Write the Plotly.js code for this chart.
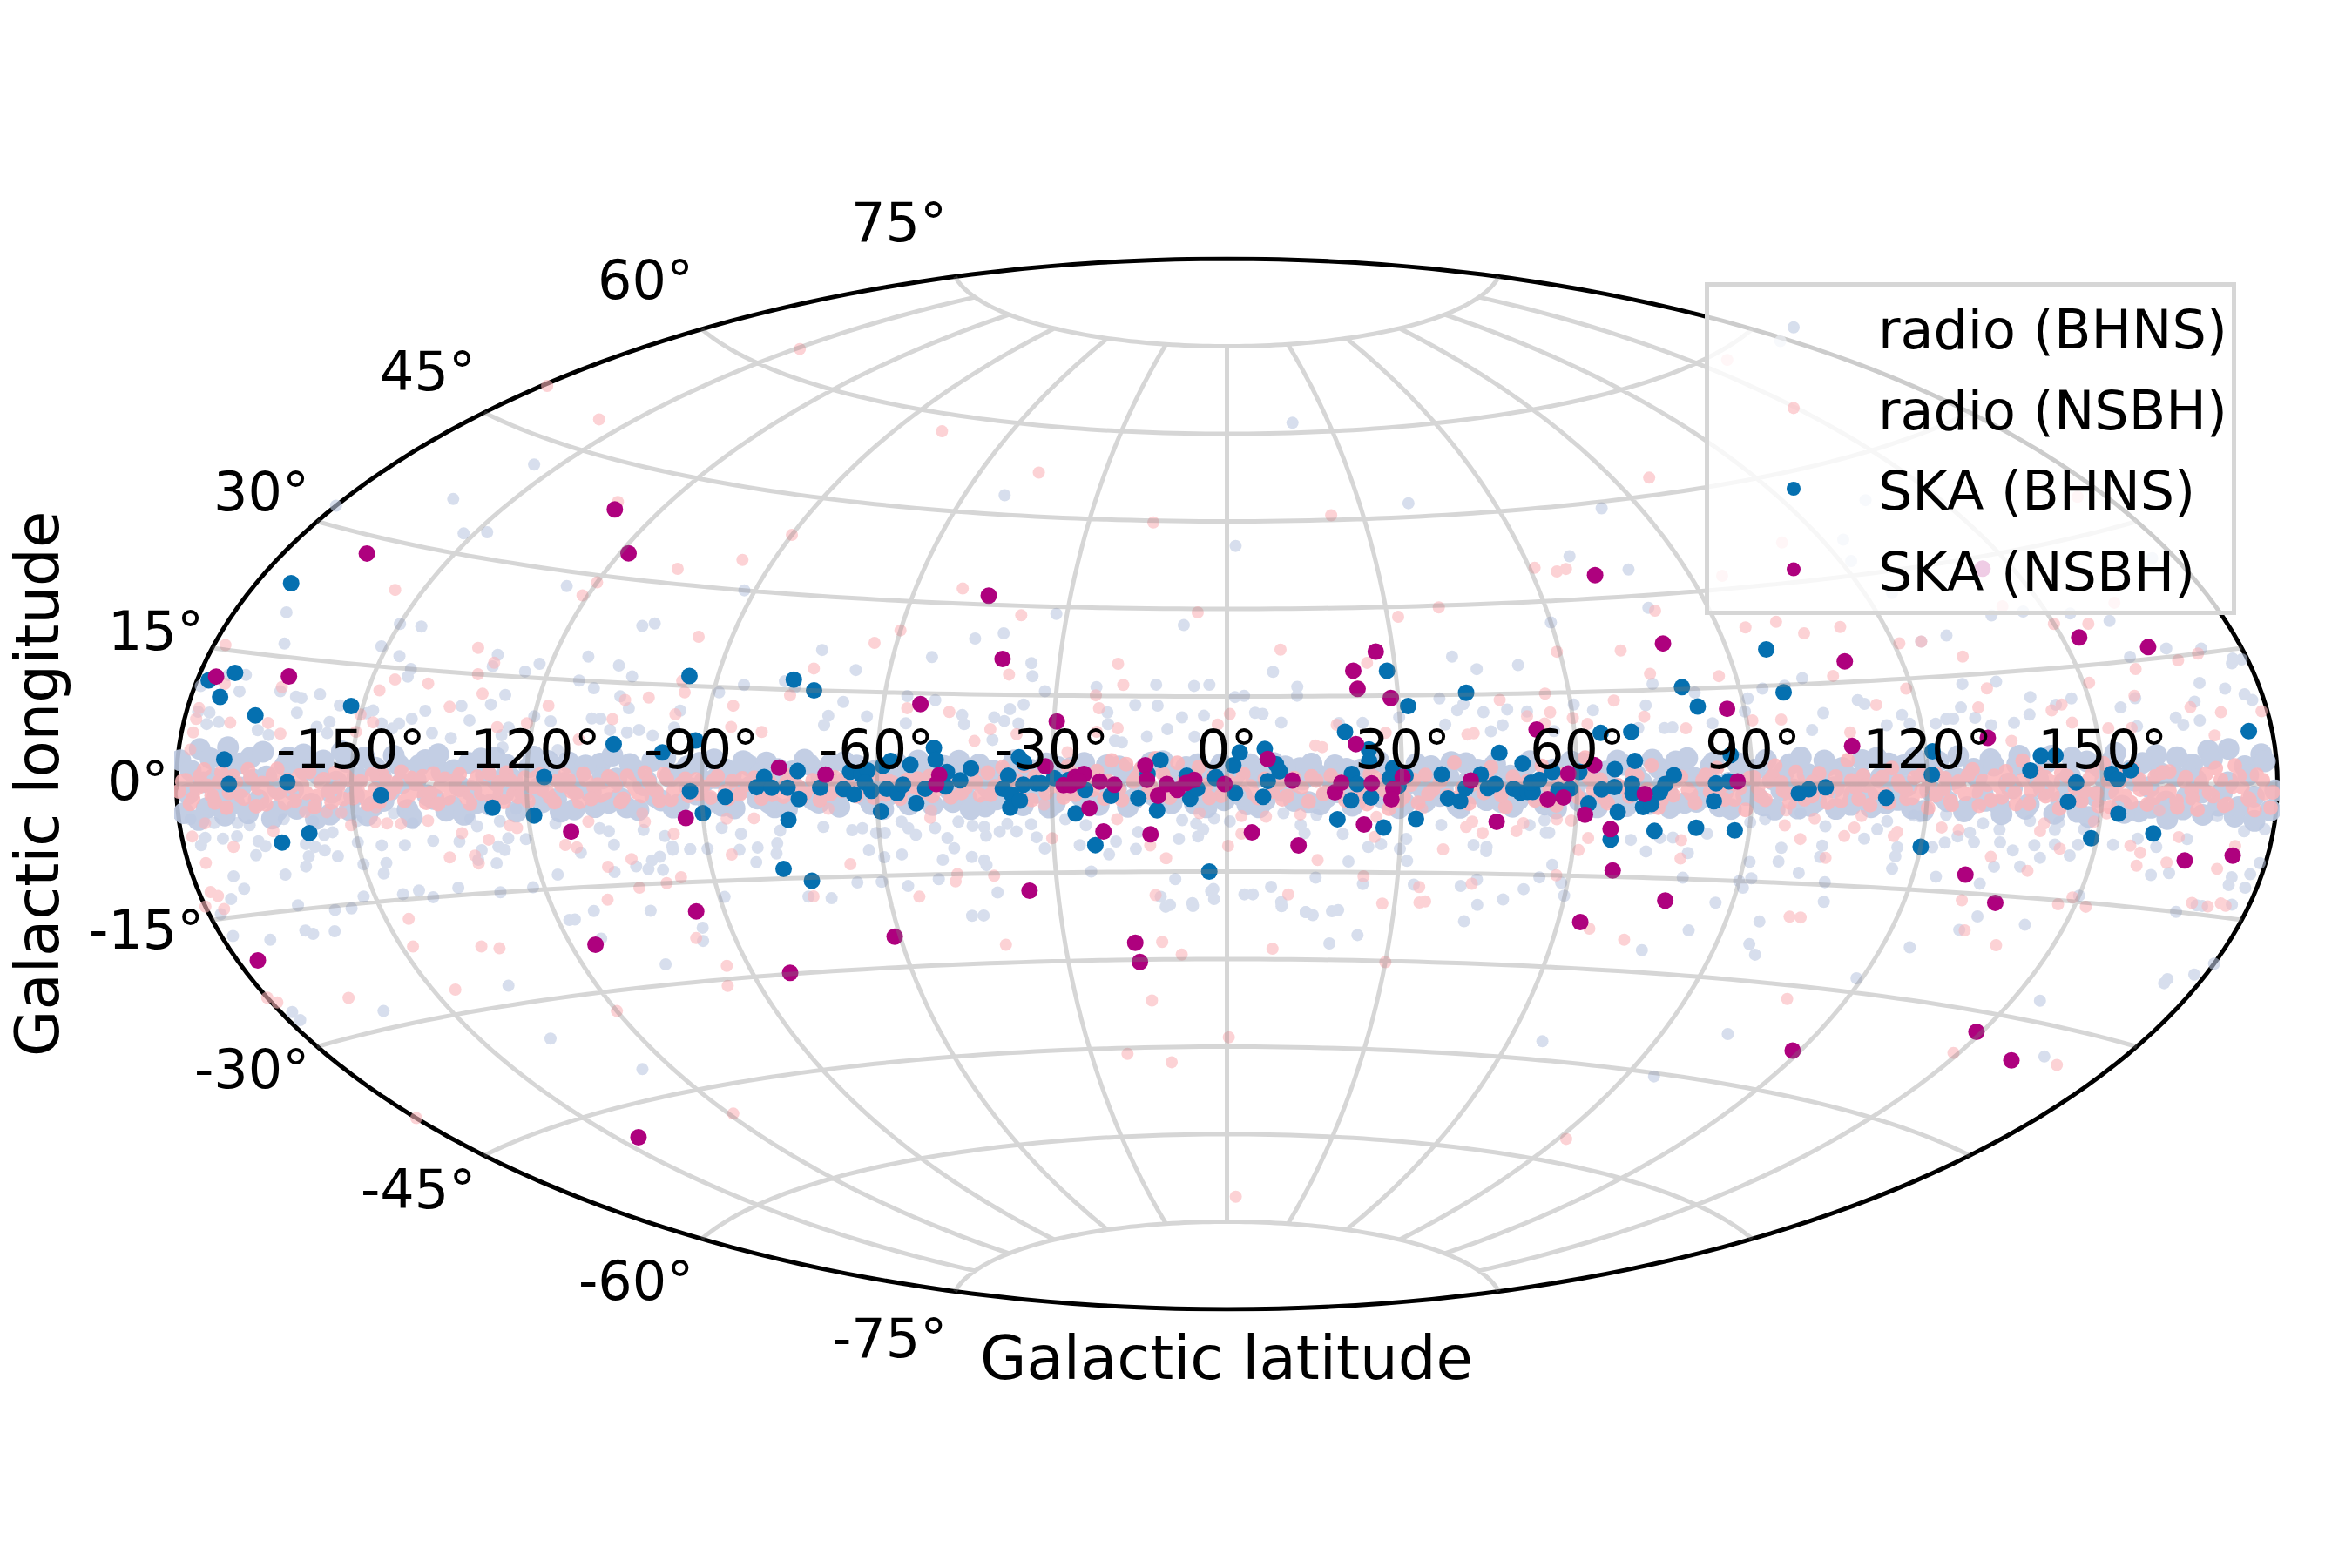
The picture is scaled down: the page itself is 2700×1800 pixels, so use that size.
<!DOCTYPE html>
<html>
<head>
<meta charset="utf-8">
<script src="https://cdn.plot.ly/plotly-3.0.1.min.js"></script>
<style>html,body{margin:0;padding:0;background:#fff}</style>
</head>
<body>
<div id="chart" style="width:2700px;height:1800px"></div>
<script>
// [lon, lat] in degrees
const skaBhns = [
[-174,23.2],[-178,11.5],[-174,12.6],[-175,9.8],[-168,8],[-152,9.8],[-172,2.8],[-171,0],[-161,.2],[-145,-1.5],[-126,-3.3],[-119,-4.5],[-117,1],[-158,-6],[-163,-7],
[-95,16.5],[-105.5,5.9],[-97,4.8],[-92,-1.1],[-76.5,16.6],[-72.5,15],[-91.5,6.7],[-86,-2],[-90,-4.5],[-80.6,-.5],[-79.3,1.1],[-78,-.6],[-75.3,-.6],[-73.6,2.1],[-73.4,-2.4],[-75.4,-5.7],
[-69.7,-.6],[-65.7,-.8],[-64.6,2],[-63.9,-1.7],[-62.7,1.6],[-61.6,2.2],[-62,.2],[-60.9,-1.1],[-59,3],[-57.7,3.8],[-58.3,-.8],[-56.5,-1.5],[-55.5,-.1],[-54.3,3.2],[-59.4,-4.5],[-53.3,-3.2],[-51.7,-.8],
[-50.4,6],[-50,4],[-48,2],[-48.2,-.4],[-45.7,.6],[-43.9,2.6],[-77.5,-13.5],[-73,-15.5],[-37.5,1.4],[-35.7,4.5],[-34.8,3.6],[-38.4,-.8],[-36.9,-1.8],[-37.2,-4],[-35.5,-2.8],[-34.9,-.1],[-32.7,.1],[-31.8,.1],
[-29.6,1],[-27.1,.7],[-26,-5],[-24.3,-1],[-22.8,-10.4],[-19.9,-2],[-15.2,-2.4],[-12,-4.5],[-11.4,4.1],[-13.6,1.7],[-6.9,1.4],[-6.3,-2.5],[-5.1,-.8],[-2,1],[-3.1,-15],
[-1.9,1.2],[1.1,3.2],[2.2,5.4],[1.4,-1.5],[6.5,6],[8.4,3.4],[9,2.2],[7,.5],[6.2,-2.2],[21.4,1.7],[22.3,0],[21.3,-2.8],[20.4,8.9],[19,-6],[24.4,5.9],[24.4,3.9],[24.7,-2.3],[27,-7.4],[28.5,19.2],[31.6,13.2],
[28.5,2.7],[27.9,1],[29.4,-.3],[30.6,1.4],[32.5,-5.9],[36.8,1.6],[42,15.3],[37.9,-2.4],[40,-2.9],[40.9,-.7],[43.5,1.6],[44.7,-.7],[46,0],[46.8,5.2],[49.1,-.8],[50.3,-1.4],[51.5,-1.3],[52.4,-1.3],[52.1,.2],[53.5,.7],[50.7,3.4],
[55.8,2],[56.8,-1],[58.8,-.8],[60.4,2],[64.5,8.3],[69.8,8.4],[70,3.7],[66.5,2.4],[64.2,-.9],[66.4,-.5],[69.4,0],[69.5,-1.5],[62,-3.2],[67.1,-4.5],[66.3,-9],[71.4,-3.7],[72.8,-3.2],[74.2,-1.3],[75.1,0],[76.6,1.4],[73.7,-7.5],
[80,15.3],[82,12.2],[80.8,-6.9],[83.5,-2.7],[83.8,.1],[86,.4],[86.5,4.5],[87.5,-7.2],[97,20.5],[97.5,13.9],[98,-1.4],[99.7,-.8],[102.6,-.5],[113,-2],[120.8,1.3],[121.2,4.6],[120,-8.9],
[137.7,1.8],[139.7,3.7],[142.2,3.7],[145.5,.2],[144.2,-2.3],[151.6,1.25],[152.6,.6],[154.9,1.7],[153,-3.7],[149,-6.9],[159.5,-6],[176,5.9]
];
const skaNsbh = [
[-177,12],[-164.5,12.8],[-113,-6.9],[-93,-5.2],[-95,-19.5],[-76.8,2.6],[-68.8,1.5],[-45.6,31.5],[-40.3,21],[-53.5,13.2],[-49.3,1.5],[-49.8,0],[-29.5,10.6],[-31.1,3],[-35,-18],[-28,-.2],[-26.8,-.2],[-26,1.2],[-24.5,1.7],[-25.4,.5],
[-23.6,-4.1],[-21.8,.4],[-19.3,-.1],[-21.3,-8.1],[-14,3.2],[-13.7,.7],[-13.2,-8.6],[-11.8,-2],[-10.3,0],[-8.5,-1],[-7,.2],[-5.6,.7],[-.4,0],[7,4.3],[11.2,.6],[4.3,-8.3],[12.4,-10.5],[18.5,-1.4],[19.6,.2],
[26.9,22.5],[22.5,19.3],[23,16.2],[28.7,14.6],[22.2,6.8],[24.8,.1],[23.6,-6.9],[30.1,1.2],[28.5,-.8],[28.2,-2.6],[41.8,.6],[46.4,-6.3],[72,33.7],[53.5,9],[58.5,1.7],[63,3.1],[55,-2.5],[57.7,-2.2],[61.5,-5],[66.1,-7.3],[67.5,-14],
[71.6,-1.6],[79,22.3],[78,-18.5],[87,11.7],[87.5,.4],[110,18],[107.5,5.6],[131,6.3],[129,-12.5],[136,-16],[153,18.5],[164,16.4],[166,-9],[174,-8.1],
[-176.5,-20],[-115.6,-23.3],[-83,-29.8],[-145.5,-48.9],[-61,-25],[-17,-27.1],[-16.5,-30.4],[64,-22.5],[118.5,-39],[149,-32.5],[161,-34.8],[-129,39],[-118.4,33.5],[-165.5,28],[144.6,28.5]
];
const radioBhns = [
// high latitudes
[-155,42],[-161,36],[-152,32.5],[-148,33.2],[-180,32],[19.4,61.7],[-51,48.2],[1.8,40.8],[41,47.3],[82,44],[79,34.2],[178,58],[136,39.5],[124,35],[122,32],[125,27],[146,22.5],[176,26],[130,20.5],[140,22.5],[154,21.5],[160,20],[173,15.5],
[-178,-14.5],[-178,-17],[-172,-18],[-165,-17.5],[-164,-18],[-160,-18],[-158,-15.5],[-164,-14.5],[-178,-26],[-178,-27],[-162,-28],[-136,-27.5],[-137,-35],[-126,-41],[-105,-27],[-114,-22.5],[-95,-22],[-96,-24],[-118,-19.5],[-117,-19.5],[-113,-18.5],
[-46,-22],[15.5,-22.4],[14.2,-21.9],[20,-21.5],[24,-25.7],[19,-27.2],[43,-23],[-11,-21],[-6.1,-20.9],[9.8,-20.9],[84,-23],[77,-26.5],[96,-21],[96,-24.5],[98,-26],[125,-23],[119,-28],[155,-27.5],[67,-42],[103,-38],[96,-45.5],[166,-33.5],[174,-22.5],[174,-23],[178,-21.5],[143,-18.5],[134,-18],[132,-20],[171,-14],[180,-20],
// left side, off the band
[-171,20],[-168,16.5],[-125,28],[-150,20.5],[-146,20.5],[-151,17.5],[-147,16.5],[-144,15],[-130,17.8],[-130,16.2],[-124,15.8],[-122,17],[-114,18.5],[-108,17.5],[-105,16],[-107,23.5],[-105,24],[-114,15],[-111,14],
[-172,12.5],[-172,10.6],[-179,10.8],[-175,12.3],[-165,11],[-162,10.5],[-161,10.4],[-158,11],[-161,8.6],[-144,14],[-133,10.6],[-128,11],[-126,12.4],[-131,8.7],[-139,9.7],[-148,9.4],[-154,9.8],[-141,8.6],[-95,11.2],[-106,13],[-104,11.3],[-117,9],[-120,9.6],[-110,9.6],[-108.5,9.6],
[-176,8],[-178,8],[-176,6.7],[-174,7],[-167,6.3],[-165,5.8],[-157,7],[-155,6.3],[-155,7.7],[-149,9],[-146,7.8],[-144,7.2],[-143,7.9],[-137,6.8],[-133.6,6.2],[-124,7.9],[-125,6.8],[-124.5,5.1],[-115,4.9],[-106.5,8],[-103.5,7.7],[-101.5,8.1],[-99,7.3],[-95.5,8.6],
[-121,-7.8],[-124,-7.6],[-126,-8.7],[-125,-9.2],[-129,-9.1],[-127,-11],[-130,-10.4],[-132.5,-7.8],[-137,-7.6],[-142,-8],[-146,-7.9],[-150,-10.2],[-146,-10.2],[-147,-11.5],[-150,-7.4],[-154,-9],[-156,-8.2],[-159,-8.8],[-160,-10],[-157.5,-7.7],[-159,-7.3],[-167,-6.7],[-166,-7.3],[-168,-8.3],[-173,-6.2],[-170.5,-6],[-177,-6.8],[-176,-6],
[-173,-10.5],[-172,-12],[-175,-13],[-164,-10.8],[-152,-14.2],[-155,-15.5],[-145,-14.3],[-142,-14],[-140,-15],[-135,-14],[-128,-15],[-122,-14.6],[-117,-13],[-107,-13],[-103,-12.3],[-101,-12.8],[-100,-11.5],[-98.5,-11],[-98.5,-13],[-93,-10],[-96,-10],[-103,-19],[-106,-9],[-112,-10],
[-115.5,-5.7],[-108,-6.5],[-106.5,-7],[-100.5,-6.9],[-97,-7.9],[-96,-9.5],[-170,-4.5],[-174,-4.4],[-178,-3.9],[-168,-4.8],[-162,-4.2],[-154,-6],[-155.5,-6.3],[-157,-4.6],[-149.5,-4.7],[-143,-3.8],[-140,-5.2],[-130,-4.8],[-129,-5.8],[-122,-3.5],[-125,-5.2],
// middle left, off the band
[-92,30],[-73,21.5],[-66,18.5],[-78,16.3],[-76,15.4],[-85,15.5],[-89,14.2],[-67,13.3],[-53,21],[-46,24.3],[-41,25.3],[-35,20.4],[-34.5,18.2],[-32,28.8],[-8,27.2],[-23,16.5],[-32,15.7],[-12.5,17],[-5.8,16.8],[-3.1,17],[-56,14.5],[-51,13.9],[-46,11.5],[-40.4,11.2],[-37.8,12.6],[-35.5,13.4],[-20.8,12.2],[-16,13.5],[-12.1,13.4],[-7.8,11.4],[-4,11.7],
[-62.5,11],[-69.2,11],[-69.7,9.5],[-55.6,10],[-45.5,10],[-38.6,10.6],[-36.1,10.2],[-20.6,10.2],[-10.3,9.4],[-5.6,8.1],[-13.8,8.1],[-19.3,7.4],[-18.1,7.1],[-40.4,7.4],
[-93,-10],[-90,-10],[-84.5,-10.3],[-81.3,-10],[-78.2,-11],[-77.8,-9.4],[-82,-12.3],[-62.1,-10.8],[-59.6,-12],[-56.5,-11.6],[-49.5,-12.6],[-47.3,-10.7],[-48.3,-9],[-44.4,-12.2],[-42.3,-12.8],[-42,-13.6],[-65.1,-16],[-60.8,-16],[-56.3,-16.8],[-50.7,-15.8],[-40.7,-18.2],[-74.3,-18],[-70.3,-18.4],[-89.1,-17.5],
[-23.8,-14.9],[-25.5,-10.4],[-20.5,-12],[-19.2,-9.8],[-15.8,-11.1],[-31.6,-10.9],[-8.3,-9.4],[-5,-9],[-2.8,-18.4],[-10.2,-20.7],[-11.8,-19.3],[-6.2,-20.4],[-43.9,-22],[-9.1,-16.3],
[-87,-6.8],[-83.8,-7.8],[-77,-7.4],[-69.5,-6.9],[-64.6,-7.5],[-62.8,-7.2],[-60.5,-8],[-59,-8],[-56,-6.2],[-54.9,-7.3],[-53.7,-8.4],[-50.3,-7.3],[-46.2,-6.3],[-43.8,-7],[-41.8,-7.2],[-41.6,-8.7],[-39.2,-8],[-37.8,-6.7],[-36.3,-8],[-32.9,-9],[-33.7,-6.8],[-27.8,-6],[-24.3,-7],[-15.3,-8.2],[-5.3,-6.8],[-4.1,-7.8],[-7.7,-6.2],
// middle right, off the band
[69,37],[60,26.5],[40.5,21.4],[44.5,19.2],[52,19.7],[79,28],[75,16],[8.2,19.2],[12.4,16.6],[12.3,15.1],[1.4,14.9],[3,15.1],[4.9,12.2],[6.2,12],[9.4,10.5],[37.2,14.4],[40.1,12.4],[41.3,13.4],[44.6,12],[48.8,12.4],[52.2,12],[60.5,13],[63.7,12],[73,12.6],[82,14.4],[23.5,10.4],[19.4,10.4],[29.9,11.3],[37.8,10],[47.7,9.8],[45.6,8.8],[56.5,8.7],[71.1,9],[75.6,8.9],[77,9],[84,9.5],
[31.4,-13],[30,-11],[31,-9.3],[26.7,-10.2],[24.5,-10.7],[21.2,-13.2],[13.4,-8.4],[20,-8.5],[12.7,-7],[9.7,-5],[15.4,-5.3],[.5,-6.4],[-2.2,-5.9],[42.7,-10.2],[45,-10.5],[45,-11.2],[55,-8],[55.6,-8],[52.1,-6.8],[54.6,-6],[36.9,-6.9],[56.8,-13.3],[54.9,-15.4],[44,-16],[41.3,-17.1],[52.5,-17.4],[58.9,-16.2],[80,-14.8],[80,-10.9],[72.7,-10.8],[69.8,-9],[74.8,-8.6],[77,-8.5],[82.8,-7.8],[91,-16],[87,-18.5],[59.9,-18.3],[49.2,-19.2],[44.8,-20.2],[33,-17],[24,-17],[15.6,-16],[7.8,-17.6],[3.1,-18.9],[4.6,-18.9],[-2.4,-18],[-2.3,-19.7],[9.7,-20.2],[14.2,-21.9],[18.9,-21.7],
// right side, off the band
[94,14.6],[98,14.9],[101.5,15.9],[125,20],[129,13.8],[135,13.8],[160,15.5],[167,16],[177,13.5],[177.5,14],[179,13.8],[170,11.7],[174,10.8],[177,10],[178,9.3],[158,10.5],[155,9.5],[147,11],[144,10.3],[140,11.5],[139,9.2],[127.5,10.6],[129.5,9.1],[117,9.9],[118,8.6],[114,8.5],[110,12.3],[111,11.7],[103.5,10.6],[101,8.1],[91,13.2],[90,11.2],[122.5,8.5],[124.5,9.1],[125.7,9.1],[136,8.2],[132,8],[164,7.9],[165,7],[168,7.4],[157,7.1],[168,9.6],
[90,-15],[92,-14.5],[91,-12],[96,-11.8],[100,-13.4],[105,-14.6],[106,-17.5],[116,-12.2],[124,-13],[132,-13.6],[133.5,-11.2],[138,-11],[141,-9.7],[146,-9.2],[153,-7.6],[161,-11],[164,-10.6],[166,-9.2],[175,-10.5],[175,-11.4],[178,-11.5],[178,-10],[179,-8.7],[168,-15],[172,-14],[177,-13.5],[150,-14.2],[103,-9.2],[96,-9.7],[103,-10.9],[116,-9.1],[116,-10.4],[122,-8.9],[124,-8.2],[126,-7.3],[128,-6.7],[129,-8],[133.5,-7.9],[133,-6.2],[136,-8.9],[139.5,-8.1],[143,-7.9],[142.5,-6],[147,-7.8],[147.5,-5.8],[157,-6.7],[160.5,-7.6],[165.5,-6.5],[170,-3.7],[175,-5.3],[178.5,-5],[110,-8],[112,-6.6],[113.5,-5.4],[103,-6.3],[98.5,-4.4],[92.5,-5.4],[90,-5.9],[119,-4.6],[118,-4.5],[123.5,-4.3],[130,-5.4],[138,-4.9],[143,-5]
];
const radioBhnsBand = [
[-179.5,2.6],[-178,-1.1],[-176.4,3.9],[-175,-2.7],[-173.5,.6],[-172,-3.6],[-170.6,1.8],[-169,-.4],[-167.5,3.1],[-166,-1.9],[-164.6,.9],[-163,-3.2],[-161.5,2.2],[-160,-.7],[-158.5,3.6],[-157,-2.4],[-155.7,1.2],[-154,-3.8],[-152.6,.3],[-151,2.8],[-149.6,-1.5],[-148,3.4],[-146.5,-2.9],[-145,1],[-143.5,-.9],[-142,2.5],[-140.6,-3.4],[-139,.5],[-137.5,3.2],[-136,-2],[-134.6,1.6],[-133,-3],[-131.5,-.3],[-130,2.9],[-128.6,-2.6],[-127,1.3],[-125.6,3.7],[-124,-1.4],[-122.5,.7],[-121,-3.3],[-119.6,2.4],[-118,-.6],[-116.5,3.3],[-115,-2.2],[-113.5,.2],[-112,-3.7],[-110.6,1.9],[-109,-1.2],[-107.5,3],[-106,-2.8],[-104.6,.8],[-103,-3.5],[-101.5,2.1],[-100,-.2],[-98.6,3.5],[-97,-2.5],[-95.5,1.1],[-94,-3.1],
[-92.5,2.7],[-91,-1.6],[-89.5,.4],[-88,3.8],[-86.6,-3.4],[-85,1.5],[-83.5,-.8],[-82,2.9],[-80.5,-2.3],[-79,3.4],[-77.6,-3.7],[-76,.6],[-74.5,2],[-73,-1.3],[-71.6,3.1],[-70,-3],[-68.5,.9],[-67,-2],[-65.6,3.6],[-64,-.5],[-62.5,2.4],[-61,-3.3],[-59.6,1.2],[-58,-1.8],[-56.5,3.3],[-55,-2.7],[-53.6,.1],[-52,2.6],[-50.5,-3.5],[-49,1.7],[-47.5,-1],[-46,3.9],[-44.6,-2.4],[-43,.7],[-41.5,-3.8],[-40,2.2],[-38.6,-.3],[-37,3],[-35.5,-2.9],[-34,1],[-32.6,-1.5],[-31,3.5],[-29.5,-3.2],[-28,.4],[-26.6,2.8],[-25,-2.1],[-23.5,1.4],[-22,-3.6],[-20.6,3.2],[-19,-.9],[-17.5,2],[-16,-2.6],[-14.6,.2],[-13,3.7],[-11.5,-3],[-10,1.5],[-8.6,-1.7],[-7,2.9],[-5.5,-3.4],[-4,.8],[-2.6,-2.2],[-1,3.4],
[.5,-.6],[2,2.3],[3.5,-3.5],[5,1.1],[6.5,-2.8],[8,3.6],[9.5,-1.2],[11,.3],[12.5,2.7],[14,-3.1],[15.5,1.6],[17,-2.3],[18.5,3.2],[20,-.4],[21.5,-3.7],[23,2.5],[24.5,-1.4],[26,3.9],[27.5,-2.7],[29,.6],[30.5,-3.3],[32,2.1],[33.5,-.8],[35,3],[36.5,-2],[38,1.2],[39.5,-3.6],[41,3.5],[42.5,-1.6],[44,.5],[45.5,2.8],[47,-3],[48.5,1.4],[50,-2.5],[51.5,3.3],[53,-.2],[54.5,-3.4],[56,2.4],[57.5,-1.1],[59,3.7],[60.5,-2.8],[62,.9],[63.5,-3.8],[65,2],[66.5,-.7],[68,3.1],[69.5,-2.4],[71,.3],[72.5,-3.2],[74,2.6],[75.5,-1.5],[77,3.6],[78.5,-3],[80,1],[81.5,-2],[83,2.9],[84.5,-3.5],[86,.2],[87.5,3.3],[89,-1.7],
[90.5,2.2],[92,-3.3],[93.5,.7],[95,-1],[96.5,3],[98,-3.7],[99.5,1.5],[101,-2.6],[102.5,3.5],[104,-.5],[105.5,2.4],[107,-3.1],[108.5,1],[110,-1.9],[111.5,3.8],[113,-2.8],[114.5,.4],[116,2.7],[117.5,-3.5],[119,1.8],[120.5,-.9],[122,3.2],[123.5,-2.4],[125,.8],[126.5,-3.8],[128,2.1],[129.5,-1.3],[131,3.4],[132.5,-2.9],[134,.1],[135.5,2.6],[137,-3.3],[138.5,1.3],[140,-.7],[141.5,3.7],[143,-2.2],[144.5,1],[146,-3.6],[147.5,2.9],[149,-1.6],[150.5,.5],[152,3.1],[153.5,-2.7],[155,1.7],[156.5,-3.4],[158,-.4],[159.5,3.5],[161,-2.1],[162.5,.9],[164,-3],[165.5,2.3],[167,-1],[168.5,3.9],[170,-2.5],[171.5,.2],[173,-3.7],[174.5,2],[176,-1.4],[177.5,3.3],[179,-2.9],
// second pass over the band
[-179,-3.2],[-177.6,1.5],[-176.6,-4],[-175.4,.2],[-174.4,2.9],[-173,-1.4],[-171.6,4.2],[-170.2,-2.2],[-169.2,2.4],[-168,-3.4],[-166.8,.5],[-165.5,3.8],[-164,-4.1],[-162.6,-.6],[-161,3.2],[-159.6,-3],[-158,1.7],[-156.5,-4.3],[-155,2.9],[-153.4,-1.1],[-152,4.1],[-150.6,-3.3],[-149,.9],[-147.6,-4],[-146,2.1],[-144.6,-2.2],[-143,3.7],[-141.4,.1],[-140,-4.4],[-138.5,2.5],[-137,-1.5],[-135.4,4],[-134,-3.6],[-132.5,1.9],[-131,-4.2],[-129.5,-.9],[-128,3.5],[-126.4,-2.9],[-125,.4],[-123.6,2.7],[-122,-3.9],[-120.5,-1],[-119,3.9],[-117.4,-2.6],[-116,1.4],[-114.4,-4],[-113,3.2],[-111.5,-.7],[-110,2.7],[-108.4,-3.4],[-107,.8],[-105.5,4.2],[-104,-2.1],[-102.4,3],[-101,-3.9],[-99.5,.5],[-98,-1.9],[-96.4,4],[-95,-3.6],[-93.5,1.7],
[-92,-.6],[-90.4,3.3],[-89,-2.8],[-87.5,.9],[-86,2.3],[-84.5,-3.8],[-83,3.6],[-81.5,-.3],[-80,1.6],[-78.5,-3],[-77,2.4],[-75.5,-4],[-74,-.9],[-72.5,3.9],[-71,-2.5],[-69.5,1.1],[-68,3.2],[-66.5,-3.7],[-65,.6],[-63.5,3],[-62,-1.9],[-60.5,2.1],[-59,-4.1],[-57.5,.3],[-56,2.8],[-54.5,-3.4],[-53,3.9],[-51.5,-1.2],[-50,.8],[-48.5,3],[-47,-3],[-45.5,1.5],[-44,-4.2],[-42.5,3.3],[-41,-.6],[-39.5,-2.6],[-38,1.2],[-36.5,4],[-35,-3.6],[-33.5,2.4],[-32,-.4],[-30.5,-4],[-29,2.9],[-27.5,-1.1],[-26,.9],[-24.5,3.6],[-23,-3],[-21.5,1.8],[-20,-1.6],[-18.5,3],[-17,-3.9],[-15.5,.6],[-14,2.6],[-12.5,-2],[-11,3.9],[-9.5,-3.3],[-8,.2],[-6.5,-1.2],[-5,3.4],[-3.5,-4],[-2,2],[-.5,-2.8],
[1,1],[2.5,-2],[4,3.4],[5.5,-4],[7,1.9],[8.5,-.8],[10,3],[11.5,-2.9],[13,.8],[14.5,3.5],[16,-3.5],[17.5,1.2],[19,-1.4],[20.5,2.6],[22,-3],[23.5,.3],[25,3.6],[26.5,-2.2],[28,1.5],[29.5,-4.1],[31,.1],[32.5,3.4],[34,-3],[35.5,1.1],[37,-1],[38.5,3.7],[40,-4],[41.5,.6],[43,2.4],[44.5,-2.7],[46,3.3],[47.5,-1.2],[49,-3.8],[50.5,1.7],[52,3.8],[53.5,-2.3],[55,.7],[56.5,-4],[58,2.9],[59.5,-1],[61,3.4],[62.5,-3.3],[64,.4],[65.5,-2.2],[67,3.8],[68.5,-3.6],[70,1.5],[71.5,-1.8],[73,3.9],[74.5,-.4],[76,-3.8],[77.5,1.9],[79,4.1],[80.5,-2.8],[82,.2],[83.5,3.4],[85,-1.2],[86.5,-3.9],[88,2.6],[89.5,.5],
[91,-2.2],[92.5,3.7],[94,-3.9],[95.5,1.9],[97,-.8],[98.5,4],[100,-3.3],[101.5,.6],[103,2.7],[104.5,-3.7],[106,1.3],[107.5,-1.6],[109,3.5],[110.5,-3.4],[112,.9],[113.5,3],[115,-2.3],[116.5,-.3],[118,3.7],[119.5,-3.8],[121,2.3],[122.5,-1.6],[124,.6],[125.5,3.9],[127,-3.2],[128.5,1],[130,-2.3],[131.5,2.5],[133,-4.1],[134.5,-.6],[136,3.8],[137.5,-2.7],[139,.6],[140.5,2.8],[142,-3.9],[143.5,.2],[145,3.4],[146.5,-1.5],[148,-4.2],[149.5,2.2],[151,-.6],[152.5,3.9],[154,-3.6],[155.5,.4],[157,2.6],[158.5,-2.9],[160,1.3],[161.5,-4.2],[163,3.2],[164.5,-1.5],[166,.5],[167.5,-3.6],[169,2.9],[170.5,-1],[172,4],[173.5,-2.6],[175,1],[176.5,-4.1],[178,2.5],[179.6,-.7]
];
const radioNsbh = [
// high latitudes and the legend corner
[-149,63],[-157,48.7],[-179,49.5],[-130,40],[-90,39],[-107,32.2],[-78,57.3],[-46,52.3],[-16,44.7],[23,45.8],[98,47.6],[65,34.7],[72,33.8],[158,59],[112,35.8],[96,32],[143,23.5],[163,22],[175,34],[101,24.5],[112,23],[125,20],[156,20],
[-146,-17.5],[-148,-21],[-136,-22],[-133,-22.5],[-146,-27],[-180,-24],[-179,-24.7],[-166,-25.8],[-120,-32.8],[-180,-39.5],[-119,-49],[-94,-28],[-96,-31],[-97,-23.5],[-180,-13.5],
[-41,-27],[-12,-27],[-8.5,-29.2],[8.5,-28.2],[30,-30.2],[-15,-37],[-22,-46],[-12.5,-47.6],[.4,-43.4],[3.5,-70.7],[66,-23.5],[73,-25],[103,-20],[109,-32],[92,-56.4],[133,-20],[140,-21.5],[149,-35.5],[170,-34],[152,-15.5],[175,-13.5],
// middle, off the band
[-96,34.5],[-96,22.5],[-64,23],[-60,25.2],[-51,32.5],[-38.5,28.4],[-38.7,18.4],[-5.5,29.4],[-19.5,20.5],[-18.3,16.9],[-23,15.1],[-22.3,12.9],[-73.5,18.5],[-76.5,14.1],[-86,12.2],[-55.7,12.5],[-48.3,12],[-40.9,9.2],[-18.9,9.5],[-43.5,7.2],[-36.3,8.4],[-27.4,5.4],[-22.5,8.9],[-80.3,8.2],[-85.7,8.9],
[-86,-5.4],[-81.3,-5.4],[-86,-11],[-65.7,-13],[-47.3,-15],[-47.8,-16.2],[-40.9,-15.4],[-54.7,-18.6],[-73.4,-18],[-30.2,-9.2],[-31.4,-3.5],[-18.9,-6],[-13.3,-10.5],[-10.6,-12.7],[-12.7,-19],[-4.7,-5],[-50.8,-4.4],[-51,-5.6],[-68.4,-4],
[61,35.5],[67,35],[32,28.3],[40,29.7],[80,27.5],[59.5,21.7],[71,21.5],[75,17.6],[87,16.8],[9.7,23],[25.1,20.6],[23.2,16.6],[47.7,14],[55.8,14.9],[67.6,13.5],[72.4,10.8],[56.2,11.8],[52.1,11.2],[60,10.8],[62.4,9.8],[55,10],[79.3,8.8],[19,10.1],[27.4,8.7],[41.5,8.3],[42.6,8.5],[.5,12],[-1.6,10.2],[15.2,6.6],[16.4,6.3],
[2.5,-5.5],[6.7,-5.6],[12.6,-5.2],[2.5,-8.5],[.2,-10.6],[15.8,-13],[25.5,-9],[25.7,-5.6],[33.5,-4.2],[41.2,-7.2],[42.2,-6.3],[44.1,-8.2],[49.9,-7.8],[51,-6.5],[56.7,-5.8],[59.2,-6],[62.4,-8.8],[61,-10.8],[37.5,-11],[78.5,-8.9],[78.9,-11.8],[24,-15.7],[57.8,-15],[34,-17.4],[43.2,-16.7],[10.9,-18.9],[34.4,-20],[35.4,-19.8],[27.8,-20.3],
// right side, off the band
[95,24],[105,22.5],[121,20],[131,17.5],[150,20.5],[107,16],[119,13.6],[133,13],[113,11.5],[130.5,10.5],[143,9.6],[145,10.3],[151,12.8],[146,7.9],[160,14],[158,10.8],[168,14.5],[172,15],[167,9],[172,8.2],[179,8],[170,5.6],[152,7],[156,6.9],[96,9.8],[91,9.8],[107.5,7.6],[135,5.8],
[99,-8.3],[106.5,-7.7],[108,-6.4],[96,-6.3],[101,-5.2],[109,-4.7],[115,-7.5],[115.5,-6.9],[104,-11],[123,-6.1],[126,-6.4],[132.5,-9.9],[139.5,-11.5],[140,-6.2],[140.5,-5.2],[144,-8.4],[149,-4.8],[156,-7.6],[158,-8.4],[158,-10],[163,-9.4],[164,-6.3],[172,-9.7],[174,-7],[170,-13.8],[173,-14],[176,-13.7],[149,-14.5],[147,-15.5],[130,-16],[101,-20],[160,-3.2],[151,-3.7],[96,-4],
// left side, off the band
[-178,15.5],[-175,11.3],[-165,11.5],[-155,24.5],[-146,13.5],[-140,13.3],[-148,12],[-132,15],[-130,12.4],[-134,18.5],[-130,16.7],[-135,10.4],[-118,11.2],[-121,27],[-120,29],[-96,15.7],[-95,14],[-101,13],[-105,12.5],[-95.7,10.6],[-106.4,9.6],[-178,8.4],[-178,7.2],[-178,5.7],[-178,3.8],[-172,7],[-165.5,7.2],[-163,6],[-150,8.8],[-150.1,6.6],[-147.5,7.9],[-126,7.9],[-121,8.6],[-111.6,6.5],
[-175.6,-4.4],[-164.1,-5.6],[-178.2,-5.8],[-171.5,-7.2],[-177,-8.8],[-178,-12],[-177,-12.5],[-177,-14],[-150.6,-5.2],[-146.4,-4.9],[-144.4,-5.1],[-142,-5.2],[-137.3,-4.9],[-131.8,-6.7],[-127.4,-7.7],[-134.8,-9.9],[-130.4,-9.8],[-130.1,-10.9],[-123.4,-5.8],[-122.2,-6.2],[-114.4,-8.8],[-112.5,-9.2],[-109.8,-5.5],[-107.9,-12.2],[-103.5,-11.2],[-95.4,-7.6],[-95.7,-14.2],[-98.5,-15],[-103.5,-15.5],[-109.8,-17],[-158.2,-3.4],[-154.5,-3.5],[-152,-3.6],[-146,-3],[-100.4,-4.4],[-100.1,-5.7]
];
const radioNsbhBand = [
[-179.6,-.8],[-178.4,.4],[-177.2,-1.6],[-176,.9],[-174.8,-.2],[-173.5,-2.1],[-172.3,1.3],[-171,-1],[-169.8,.2],[-168.5,-1.7],[-167.3,.7],[-166,-.5],[-164.8,-2.4],[-163.5,1.1],[-162.3,-1.3],[-161,.5],[-159.8,-2],[-158.5,-.1],[-157.3,1.5],[-156,-1.5],[-154.8,.6],[-153.5,-2.3],[-152.3,-.4],[-151,1],[-149.8,-1.8],[-148.5,.3],[-147.3,-2.6],[-146,-.7],[-144.8,1.2],[-143.5,-1.2],[-142.3,.1],[-141,-2.2],[-139.8,.8],[-138.5,-.9],[-137.3,-2.5],[-136,1.4],[-134.8,-.3],[-133.5,-1.9],[-132.3,.5],[-131,-1.1],[-129.8,-2.7],[-128.5,1],[-127.3,-.6],[-126,-2],[-124.8,.2],[-123.5,1.6],[-122.3,-1.4],[-121,-.1],[-119.8,-2.4],[-118.5,.9],[-117.3,-.8],[-116,-1.9],[-114.8,.4],[-113.5,1.3],[-112.3,-1.1],[-111,-2.6],[-109.8,.6],[-108.5,-.5],[-107.3,-1.7],[-106,1.1],[-104.8,-.2],[-103.5,-2.2],[-102.3,.3],[-101,-1.3],[-99.8,1.7],[-98.5,-.7],[-97.3,-2.5],[-96,.8],[-94.8,-1],[-93.5,.1],[-92.3,-1.8],
[-91,.7],[-89.8,-.4],[-88.5,-2.1],[-87.3,1.2],[-86,-1.2],[-84.8,.4],[-83.5,-1.6],[-82.3,-.1],[-81,1],[-79.8,-2.3],[-78.5,.5],[-77.3,-.9],[-76,-2],[-74.8,1.4],[-73.5,-.3],[-72.3,-1.5],[-71,.6],[-69.8,-2.6],[-68.5,-.6],[-67.3,1.1],[-66,-1.1],[-64.8,-.2],[-63.5,-2],[-62.3,.9],[-61,-.8],[-59.8,1.6],[-58.5,-1.7],[-57.3,.2],[-56,-2.4],[-54.8,.7],[-53.5,-.5],[-52.3,-1.4],[-51,1.3],[-49.8,-1],[-48.5,.3],[-47.3,-2.2],[-46,.5],[-44.8,-.7],[-43.5,2.4],[-42.3,-1.9],[-41,1.9],[-39.8,-.4],[-38.5,2.8],[-37.3,-1.2],[-36,.6],[-34.8,3.1],[-33.5,-2.7],[-32.3,.1],[-31,-1.5],[-29.8,1],[-28.5,-.6],[-27.3,3],[-26,-1.8],[-24.8,.8],[-23.5,-.3],[-22.3,2.2],[-21,-2.5],[-19.8,4],[-18.5,-1],[-17.3,3.4],[-16,.4],[-14.8,2.6],[-13.5,-1.4],[-12.3,4.4],[-11,1.8],[-9.8,-2.3],[-8.5,3.6],[-7.3,.7],[-6,-1.6],[-4.8,2.9],[-3.5,-.2],[-2.3,1.3],[-1,-2],
[.3,.5],[1.5,-1.1],[2.8,1.7],[4,-.4],[5.3,-2.4],[6.5,.9],[7.8,-1.3],[9,.2],[10.3,-2.1],[11.5,1],[12.8,-.6],[14,-3],[15.3,.6],[16.5,-1.7],[17.8,1.4],[19,-.9],[20.3,-2.8],[21.5,.3],[22.8,-1.2],[24,-3.4],[25.3,1.1],[26.5,-.5],[27.8,-4.2],[29,.8],[30.3,-2.2],[31.5,-.1],[32.8,-3.2],[34,1.5],[35.3,-1],[36.5,.4],[37.8,-2],[39,3.6],[40.3,-.7],[41.5,-3.3],[42.8,.9],[44,-1.5],[45.3,2.8],[46.5,-.3],[47.8,-3.8],[49,1.2],[50.3,-1.2],[51.5,.5],[52.8,-2.7],[54,3],[55.3,-.8],[56.5,-3.5],[57.8,1.6],[59,-.2],[60.3,-2.2],[61.5,4.3],[62.8,-1],[64,.7],[65.3,-3.1],[66.5,2.2],[67.8,-.5],[69,-2],[70.3,1.3],[71.5,-1.4],[72.8,3],[74,-3.8],[75.3,.2],[76.5,-1.8],[77.8,1.1],[79,-.9],[80.3,-3],[81.5,.6],[82.8,-1.2],[84,2.5],[85.3,-2.4],[86.5,.1],[87.8,-.7],[89,-4],
[90.3,1],[91.5,-1.9],[92.8,.4],[94,2.8],[95.3,-1],[96.5,-2.8],[97.8,.7],[99,-.4],[100.3,-1.8],[101.5,1.6],[102.8,-1.2],[104,.2],[105.3,-2.5],[106.5,3.5],[107.8,-.6],[109,1.2],[110.3,-3.1],[111.5,.5],[112.8,-1.5],[114,2.3],[115.3,-.2],[116.5,-2.1],[117.8,.9],[119,-1],[120.3,-3.4],[121.5,1.4],[122.8,-.7],[124,-2.4],[125.3,.3],[126.5,-1.4],[127.8,2],[129,-3],[130.3,-.1],[131.5,1.1],[132.8,-1.8],[134,.6],[135.3,-2.7],[136.5,3.1],[137.8,-.9],[139,1.5],[140.3,-1.6],[141.5,.2],[142.8,-3.2],[144,1],[145.3,-.5],[146.5,-2.2],[147.8,.7],[149,-1.2],[150.3,2.6],[151.5,-2.9],[152.8,.1],[154,-1.5],[155.3,1.8],[156.5,-.7],[157.8,-2.5],[159,.9],[160.3,-1.1],[161.5,1.5],[162.8,-2],[164,.3],[165.3,-.8],[166.5,-3],[167.8,1.2],[169,-1.4],[170.3,.5],[171.5,-2.3],[172.8,2.1],[174,-.4],[175.3,-1.8],[176.5,1],[177.8,-1],[179,-2.6],
// second pass over the band
[-179,.3],[-177.8,-2.2],[-176.5,-.5],[-175.3,1.6],[-174,-1.3],[-172.8,.2],[-171.6,-2.7],[-170.3,.9],[-169,-1.4],[-167.8,1.7],[-166.5,-2.6],[-165.3,.1],[-164,-1],[-162.8,1.8],[-161.5,-2.3],[-160.3,-.3],[-159,1],[-157.8,-1.1],[-156.5,-2.8],[-155.3,.2],[-154,-.9],[-152.8,1.4],[-151.5,-1.9],[-150.3,.5],[-149,-.7],[-147.8,-1.7],[-146.5,1.2],[-145.3,-2.3],[-144,.4],[-142.8,-.6],[-141.5,1.6],[-140.3,-1.6],[-139,-.2],[-137.8,1],[-136.5,-1.2],[-135.3,-2.7],[-134,.7],[-132.8,-.8],[-131.5,1.3],[-130.3,-2],[-129,.1],[-127.8,-1.3],[-126.5,1.5],[-125.3,-.9],[-124,-2.5],[-122.8,.5],[-121.5,-1.8],[-120.3,.9],[-119,-.4],[-117.8,1.3],[-116.5,-1.2],[-115.3,-2.6],[-114,-.2],[-112.8,.6],[-111.5,-1.6],[-110.3,1.5],[-109,-2.2],[-107.8,-.1],[-106.5,-1.3],[-105.3,.7],[-104,-2.7],[-102.8,1.2],[-101.5,-.6],[-100.3,-1.8],[-99,.4],[-97.8,-1.1],[-96.5,1.5],[-95.3,-2.4],[-94,-.3],[-92.8,.8],
[-90.5,-1.5],[-88,.5],[-85.5,-2.3],[-83,.9],[-80.5,-.6],[-78,-1.7],[-75.5,.3],[-73,-2.3],[-70.5,-.4],[-68,-1.6],[-65.5,.7],[-63,-.9],[-60.5,-2.2],[-58,.5],[-55.5,-1],[-53,.9],[-50.5,-2],[-48,-.3],[-45.5,-1.5],[-43,.3],[-40.5,-1.8],[-38,.8],[-35.5,-2],[-33,1.2],[-30.5,-.7],[-28,-2.3],[-25.5,1.6],[-23,-1],[-20.5,.5],[-18,-2.7],[-15.5,1.2],[-13,-.5],[-10.5,.6],[-8,-1.2],[-5.5,1.4],[-3,-2.4],[-.5,-.7],
[2,.2],[4.5,-1.6],[7,.5],[9.5,-2.6],[12,-.2],[14.5,1.3],[17,-1.4],[19.5,.5],[22,-2.2],[24.5,1.7],[27,-1.1],[29.5,-2.9],[32,.7],[34.5,-1.7],[37,1.2],[39.5,-2.3],[42,-.1],[44.5,1.4],[47,-1.9],[49.5,.3],[52,-1],[54.5,-2.7],[57,.6],[59.5,-1.3],[62,1],[64.5,-2.2],[67,-.2],[69.5,1.6],[72,-.9],[74.5,-2.6],[77,.4],[79.5,-1.5],[82,1.4],[84.5,-.5],[87,-2.4],[89.5,.9],
[91,-.6],[92.3,-2.4],[93.5,1.2],[95,.2],[96.3,-1.5],[97.5,1.8],[99,-2.3],[100.3,.3],[101.5,-.5],[103,-2.8],[104.3,1.1],[105.5,-1.1],[107,.5],[108.3,-2.2],[109.5,-.2],[111,-1.2],[112.3,1],[113.5,-2.7],[115,.4],[116.3,-.8],[117.5,-2],[119,1.3],[120.3,.1],[121.5,-1.6],[123,.8],[124.3,-2.9],[125.5,-.5],[127,1.2],[128.3,-1],[129.5,.4],[131,-2.2],[132.3,-.3],[133.5,1.7],[135,-1.2],[136.3,.5],[137.5,-2.6],[139,-.2],[140.3,.9],[141.5,-1.4],[143,1.5],[144.3,-2.1],[145.5,-.1],[147,-.9],[148.3,1.3],[149.5,-2.8],[151,.3],[152.3,-1.2],[153.5,1],[155,-2.3],[156.3,.6],[157.5,-.5],[159,-1.7],[160.3,1.4],[161.5,-.8],[163,-2.8],[164.3,.8],[165.5,-1.7],[167,.2],[168.3,-1],[169.5,1.8],[171,-2.5],[172.3,-.3],[173.5,.9],[175,-1.6],[176.3,-2.9],[177.5,.4],[179.2,-.9]
];
const lonTicks = [-150,-120,-90,-60,-30,0,30,60,90,120,150];
const latTicks = [-75,-60,-45,-30,-15,0,15,30,45,60,75];

// ellipse on the page, px
const cx = 1408.5, cy = 900, halfW = 1206.5, halfH = 603;
const fontFam = '"DejaVu Sans", sans-serif';
const tickSize = 62, titleSize = 69;

function pts(list, name, color, size, opacity, inLegend) {
  return {
    type: 'scattergeo', mode: 'markers', name: name, legendgroup: name, showlegend: inLegend,
    lon: list.map(p => p[0]), lat: list.map(p => p[1]),
    opacity: opacity,
    marker: {color: color, size: size, line: {width: 0}},
    hoverinfo: 'skip'
  };
}

// grid stops at +-75 like the original axes
let gridLon = [], gridLat = [];
lonTicks.forEach(l => {
  for (let a = -75; a <= 75; a += 2.5) { gridLon.push(l); gridLat.push(a); }
  gridLon.push(null); gridLat.push(null);
});
latTicks.forEach(a => {
  for (let l = -179.99; l <= 179.99; l += 3) { gridLon.push(l); gridLat.push(a); }
  gridLon.push(179.99); gridLat.push(a);
  gridLon.push(null); gridLat.push(null);
});

// the band holds far more points than can be read one by one, so its dots are drawn fatter
let traces = [
  pts(radioBhns, 'radio (BHNS)', '#bdc9e1', 14, 0.6, true),
  pts(radioBhnsBand, 'radio (BHNS)', '#bdc9e1', 25, 0.9, false),
  pts(radioNsbh, 'radio (NSBH)', '#fbb4b9', 14, 0.6, true),
  pts(radioNsbhBand, 'radio (NSBH)', '#fbb4b9', 17, 0.85, false),
  pts(skaBhns, 'SKA (BHNS)', '#0570b0', 19, 1, true),
  pts(skaNsbh, 'SKA (NSBH)', '#ae017e', 19, 1, true),
  {type: 'scattergeo', mode: 'lines', lon: gridLon, lat: gridLat, showlegend: false, hoverinfo: 'skip',
   line: {color: 'rgba(128,128,128,0.32)', width: 5}}
];

function note(text, x, y, size, extra) {
  return Object.assign({
    text: text, x: x / 2700, y: 1 - y / 1800, xref: 'paper', yref: 'paper',
    showarrow: false, font: {family: fontFam, size: size, color: '#000'}
  }, extra || {});
}

let annotations = [];
lonTicks.forEach(l => {
  annotations.push(note(l + '°', cx + l / 180 * halfW, 861, tickSize, {xanchor: 'center', yanchor: 'middle'}));
});
latTicks.forEach(a => {
  let r = a * Math.PI / 180;
  // matplotlib puts these on the left edge, pushed out by 1.1 in y
  annotations.push(note(a + '°', cx - Math.cos(r) * halfW - 7, cy - 1.1 * Math.sin(r) * halfH - 4, tickSize, {xanchor: 'right', yanchor: 'middle'}));
});
annotations.push(note('Galactic latitude', cx, 1559, titleSize, {xanchor: 'center', yanchor: 'middle'}));
annotations.push(note('Galactic longitude', 43, cy, titleSize, {xanchor: 'center', yanchor: 'middle', textangle: -90}));

const layout = {
  width: 2700, height: 1800,
  margin: {l: 0, r: 0, t: 0, b: 0},
  paper_bgcolor: '#fff',
  font: {family: fontFam, color: '#000'},
  geo: {
    domain: {x: [(cx - halfW) / 2700, (cx + halfW) / 2700], y: [1 - (cy + halfH) / 1800, 1 - (cy - halfH) / 1800]},
    projection: {type: 'aitoff'},
    showland: false, showocean: false, showlakes: false, showrivers: false, showcountries: false, showcoastlines: false, showsubunits: false,
    showframe: true, framecolor: '#000', framewidth: 5,
    bgcolor: 'rgba(0,0,0,0)',
    lonaxis: {showgrid: false}, lataxis: {showgrid: false}
  },
  legend: {
    x: 1957 / 2700, y: 1 - 324 / 1800, xanchor: 'left', yanchor: 'top',
    bgcolor: 'rgba(255,255,255,0.8)', bordercolor: '#d6d6d6', borderwidth: 5,
    font: {family: fontFam, size: tickSize, color: '#000'},
    itemwidth: 184, entrywidth: 440, entrywidthmode: 'pixels',
    tracegroupgap: 9, traceorder: 'grouped', itemclick: false, itemdoubleclick: false
  },
  annotations: annotations
};

Plotly.newPlot('chart', traces, layout, {displayModeBar: false, staticPlot: true});
</script>
</body>
</html>
